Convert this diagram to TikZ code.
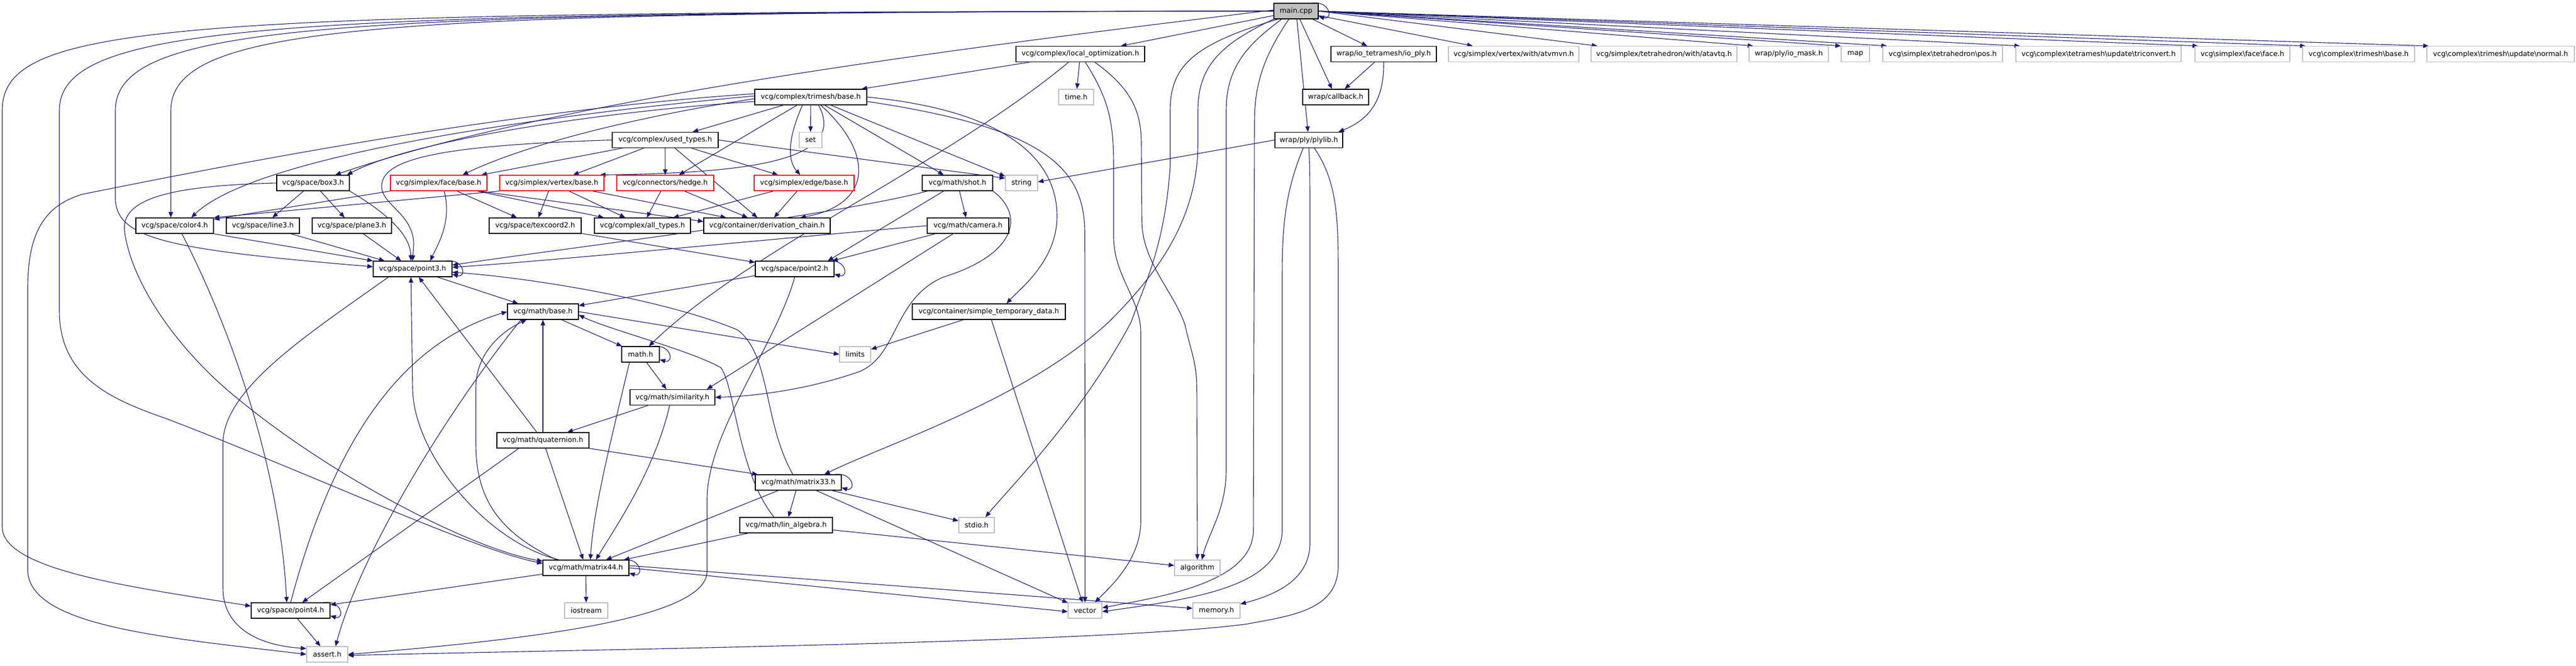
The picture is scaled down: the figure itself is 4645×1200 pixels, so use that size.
\documentclass[tikz,border=0pt]{standalone}
\usepackage{fontspec}
\newfontfamily\nodefont{DejaVu Sans}
\usetikzlibrary{arrows.meta,calc}
\definecolor{edgecol}{HTML}{191970}
\definecolor{missgray}{HTML}{BFBFBF}
\pgfdeclarelayer{edgelayer}
\pgfsetlayers{edgelayer,main}
\newcommand\bs{\textbackslash}
\newcommand\loopon[1]{\draw[edge] ($(#1.north east)+(-12,0)$) .. controls ($(#1.north east)+(22,4)$) and ($(#1.south east)+(26,-2)$) .. ($(#1.south east)+(0,5)$);}
\begin{document}
\begin{tikzpicture}[x=1pt,y=1pt,
  box/.style={rectangle, minimum height=28pt, inner sep=0pt, line width=1.2pt, fill=white,
    font=\nodefont\fontsize{12.7pt}{15pt}\selectfont},
  doc/.style={box, draw=black},
  miss/.style={box, draw=missgray},
  trunc/.style={box, draw=red},
  edge/.style={draw=edgecol, line width=1.1pt, -{Triangle[length=10pt,width=8pt]}}]
\useasboundingbox (0,0) rectangle (4645,-1200);
% ---------- nodes ----------
\node[doc,fill=missgray,minimum width=80pt] (main) at (2337,-20) {main.cpp};
\node[doc,minimum width=232pt] (locopt) at (1948,-97.5) {vcg/complex/local\_optimization.h};
\node[doc,minimum width=190pt] (ioply) at (2495,-97.5) {wrap/io\_tetramesh/io\_ply.h};
\node[miss,minimum width=235pt] (atvmvn) at (2729.5,-97.5) {vcg/simplex/vertex/with/atvmvn.h};
\node[miss,minimum width=263pt] (atavtq) at (3000.5,-97.5) {vcg/simplex/tetrahedron/with/atavtq.h};
\node[miss,minimum width=143pt] (iomask) at (3225.5,-97.5) {wrap/ply/io\_mask.h};
\node[miss,minimum width=51pt] (map) at (3345.5,-97.5) {map};
\node[miss,minimum width=216pt] (pos) at (3503,-97.5) {vcg\bs simplex\bs tetrahedron\bs pos.h};
\node[miss,minimum width=298pt] (triconvert) at (3784,-97.5) {vcg\bs complex\bs tetramesh\bs update\bs triconvert.h};
\node[miss,minimum width=171pt] (faceface) at (4043.5,-97.5) {vcg\bs simplex\bs face\bs face.h};
\node[miss,minimum width=202pt] (tribaseb) at (4253,-97.5) {vcg\bs complex\bs trimesh\bs base.h};
\node[miss,minimum width=266pt] (normal) at (4509,-97.5) {vcg\bs complex\bs trimesh\bs update\bs normal.h};
\node[doc,minimum width=202pt] (tribase) at (1462,-175) {vcg/complex/trimesh/base.h};
\node[miss,minimum width=63pt] (time) at (1940.5,-175) {time.h};
\node[doc,minimum width=119pt] (callback) at (2408.5,-175) {wrap/callback.h};
\node[doc,minimum width=191pt] (usedtypes) at (1199.5,-252.5) {vcg/complex/used\_types.h};
\node[miss,minimum width=41pt] (set) at (1461.5,-252.5) {set};
\node[doc,minimum width=122pt] (plylib) at (2360,-252.5) {wrap/ply/plylib.h};
\node[doc,minimum width=131pt] (box3) at (564.5,-330) {vcg/space/box3.h};
\node[trunc,minimum width=174pt] (facebase) at (791,-330) {vcg/simplex/face/base.h};
\node[trunc,minimum width=188pt] (vertexbase) at (995,-330) {vcg/simplex/vertex/base.h};
\node[trunc,minimum width=175pt] (hedge) at (1199.5,-330) {vcg/connectors/hedge.h};
\node[trunc,minimum width=180pt] (edgebase) at (1450,-330) {vcg/simplex/edge/base.h};
\node[doc,minimum width=127pt] (shot) at (1726.5,-330) {vcg/math/shot.h};
\node[miss,minimum width=58pt] (string) at (1842,-330) {string};
\node[doc,minimum width=140pt] (color4) at (315,-407) {vcg/space/color4.h};
\node[doc,minimum width=132pt] (line3) at (474,-407) {vcg/space/line3.h};
\node[doc,minimum width=143pt] (plane3) at (634.5,-407) {vcg/space/plane3.h};
\node[doc,minimum width=166pt] (texcoord2) at (965,-407) {vcg/space/texcoord2.h};
\node[doc,minimum width=173pt] (alltypes) at (1158.5,-407) {vcg/complex/all\_types.h};
\node[doc,minimum width=228pt] (derivchain) at (1383,-407) {vcg/container/derivation\_chain.h};
\node[doc,minimum width=147pt] (camera) at (1745.5,-407) {vcg/math/camera.h};
\node[doc,minimum width=142pt] (point3) at (744,-485) {vcg/space/point3.h};
\node[doc,minimum width=142pt] (point2) at (1433,-485) {vcg/space/point2.h};
\node[doc,minimum width=128pt] (mathbase) at (979,-562) {vcg/math/base.h};
\node[doc,minimum width=276pt] (simpletemp) at (1783,-562) {vcg/container/simple\_temporary\_data.h};
\node[doc,minimum width=68pt] (math) at (1155,-639) {math.h};
\node[miss,minimum width=56pt] (limits) at (1542,-639) {limits};
\node[doc,minimum width=153pt] (similarity) at (1212.5,-716.5) {vcg/math/similarity.h};
\node[doc,minimum width=166pt] (quaternion) at (979,-794) {vcg/math/quaternion.h};
\node[doc,minimum width=155pt] (matrix33) at (1439.5,-870) {vcg/math/matrix33.h};
\node[doc,minimum width=167pt] (linalg) at (1417.5,-947) {vcg/math/lin\_algebra.h};
\node[miss,minimum width=64pt] (stdio) at (1761,-947) {stdio.h};
\node[doc,minimum width=155pt] (matrix44) at (1056.5,-1024) {vcg/math/matrix44.h};
\node[miss,minimum width=82pt] (algorithm) at (2159,-1024) {algorithm};
\node[doc,minimum width=142pt] (point4) at (524,-1101) {vcg/space/point4.h};
\node[miss,minimum width=78pt] (iostream) at (1057,-1101) {iostream};
\node[miss,minimum width=61pt] (vector) at (1956.5,-1101) {vector};
\node[miss,minimum width=85pt] (memory) at (2193.5,-1101) {memory.h};
\node[miss,minimum width=74pt] (assert) at (590,-1180) {assert.h};
\begin{pgfonlayer}{edgelayer}
\fill[white] (0,0) rectangle (4645,-1200);
% ---------- edges from main.cpp ----------
\loopon{main}
\draw[edge] (main) -- (locopt);
\draw[edge] (main) -- (ioply);
\draw[edge] (main) -- (atvmvn);
\draw[edge] (main.east) -- ($(atavtq.north west)+(12,0)$);
\draw[edge] (main.east) -- ($(iomask.north west)+(8,0)$);
\draw[edge] (main.east) -- ($(map.north west)+(0,0)$);
\draw[edge] (main.east) -- ($(pos.north west)+(8,0)$);
\draw[edge] (main.east) -- ($(triconvert.north west)+(8,0)$);
\draw[edge] (main.east) -- ($(faceface.north west)+(6,0)$);
\draw[edge] (main.east) -- ($(tribaseb.north west)+(6,0)$);
\draw[edge] (main.east) -- ($(normal.north west)+(4,0)$);
\draw[edge] (main) -- (callback);
\draw[edge] (main) -- (plylib);
\draw[edge] ($(main.west)+(0,2)$) .. controls (1700,-90) and (1000,-180) .. ($(box3.north)+(40,0)$);
\draw[edge] (main.west) .. controls (700,-22) and (308,-40) .. (308,-200) -- ($(color4.north)+(-7,0)$);
\draw[edge] (main.west) .. controls (600,-22) and (208,-40) .. (208,-200) -- (208,-360) .. controls (212,-430) and (300,-450) .. ($(point3.west)+(0,4)$);
\draw[edge] (main.west) .. controls (500,-22) and (107,-40) .. (107,-200) -- (107,-560) .. controls (107,-680) and (200,-720) .. (300,-755) .. controls (550,-850) and (850,-990) .. ($(matrix44.west)+(0,8)$);
\draw[edge] (main.west) .. controls (300,-21) and (4,-40) .. (4,-200) -- (4,-950) .. controls (4,-1030) and (250,-1060) .. ($(point4.west)+(0,8)$);
\draw[edge] (main.south west) .. controls (2200,-80) and (2160,-120) .. (2160,-200) -- (2160,-260) .. controls (2160,-400) and (2080,-500) .. (2000,-580) .. controls (1850,-720) and (1600,-800) .. ($(matrix33.north)+(47,0)$);
\draw[edge] ($(main.south west)+(8,0)$) .. controls (2150,-80) and (2110,-120) .. (2110,-200) -- (2110,-300) .. controls (2100,-450) and (2060,-520) .. (2040,-580) .. controls (1950,-750) and (1820,-880) .. ($(stdio.north)+(16,0)$);
\draw[edge] ($(main.south)+(-26,0)$) .. controls (2250,-80) and (2211,-120) .. (2211,-200) -- (2211,-850) .. controls (2210,-920) and (2180,-960) .. ($(algorithm.north)+(8,0)$);
\draw[edge] ($(main.south)+(-13,0)$) .. controls (2280,-100) and (2262,-150) .. (2262,-220) -- (2260,-960) .. controls (2255,-1050) and (2100,-1075) .. ($(vector.east)+(0,5)$);
% ---------- io_ply / plylib ----------
\draw[edge] (ioply) -- (callback);
\draw[edge] (ioply.south) .. controls (2496,-180) and (2470,-215) .. ($(plylib.north east)+(-8,0)$);
\draw[edge] (plylib.west) -- ($(string.east)+(0,2)$);
\draw[edge] ($(plylib.south)+(-10,0)$) .. controls (2315,-350) and (2312,-420) .. (2312,-500) -- (2312,-960) .. controls (2305,-1060) and (2150,-1080) .. ($(vector.east)+(0,-2)$);
\draw[edge] (plylib.south) .. controls (2362,-300) and (2362,-320) .. (2362,-400) -- (2362,-980) .. controls (2362,-1050) and (2290,-1075) .. ($(memory.north east)+(0,-3)$);
\draw[edge] ($(plylib.south)+(10,0)$) .. controls (2413,-330) and (2413,-400) .. (2413,-500) -- (2413,-1020) .. controls (2413,-1100) and (2330,-1110) .. (2250,-1125) .. controls (2000,-1160) and (1000,-1172) .. ($(assert.east)+(0,-2)$);
% ---------- local_optimization ----------
\draw[edge] (locopt) -- (time);
\draw[edge] (locopt) -- (tribase);
\draw[edge] ($(locopt.south)+(-21,0)$) .. controls (1700,-300) and (1350,-450) .. ($(math.north)+(15,0)$);
\draw[edge] ($(locopt.south)+(9,0)$) .. controls (2000,-180) and (2008,-220) .. (2008,-300) -- (2008,-430) .. controls (2010,-500) and (2057,-540) .. (2057,-600) -- (2057,-940) .. controls (2057,-1010) and (2000,-1060) .. ($(vector.north)+(18,0)$);
\draw[edge] ($(locopt.south)+(26,0)$) .. controls (2040,-160) and (2058,-200) .. (2058,-260) -- (2059,-400) .. controls (2060,-480) and (2130,-540) .. (2140,-600) .. controls (2150,-640) and (2158,-660) .. (2158,-700) -- (algorithm.north);
% ---------- trimesh/base.h ----------
\draw[edge] (tribase) -- (set);
\draw[edge] (tribase) -- (usedtypes);
\draw[edge] (tribase) -- (hedge);
\draw[edge] (tribase) -- (shot);
\draw[edge] (tribase) -- (string);
\draw[edge] ($(tribase.south)+(-15,0)$) .. controls (1420,-250) and (1420,-290) .. ($(edgebase.north)+(-7,0)$);
\draw[edge] ($(tribase.south)+(14,0)$) .. controls (1530,-290) and (1350,-312) .. ($(vertexbase.north east)+(-8,0)$);
\draw[edge] ($(tribase.south)+(18,0)$) .. controls (1580,-280) and (1570,-370) .. ($(derivchain.north)+(60,0)$);
\draw[edge] (tribase.east) .. controls (1820,-200) and (1906,-290) .. (1906,-390) .. controls (1906,-470) and (1840,-520) .. ($(simpletemp.north)+(32,0)$);
\draw[edge] ($(tribase.east)+(0,-8)$) .. controls (1880,-230) and (1956,-300) .. (1956,-420) -- (vector.north);
\draw[edge] ($(tribase.west)+(0,-8)$) .. controls (1100,-200) and (750,-250) .. ($(box3.north east)+(-5,0)$);
\draw[edge] ($(tribase.west)+(0,-3)$) .. controls (1150,-210) and (950,-260) .. ($(facebase.north)+(43,0)$);
\draw[edge] ($(tribase.west)+(0,2)$) .. controls (900,-215) and (450,-290) .. ($(color4.north)+(30,0)$);
\draw[edge] ($(tribase.west)+(0,6)$) .. controls (900,-200) and (400,-300) .. (150,-350) .. controls (80,-370) and (50,-420) .. (50,-520) -- (50,-1030) .. controls (55,-1130) and (300,-1150) .. (assert.west);
% ---------- used_types ----------
\draw[edge] (usedtypes) -- (facebase);
\draw[edge] (usedtypes) -- (vertexbase);
\draw[edge] (usedtypes) -- (hedge);
\draw[edge] (usedtypes) -- (edgebase);
\draw[edge] (usedtypes) -- (derivchain);
\draw[edge] (usedtypes.east) -- ($(string.north west)+(0,-6)$);
\draw[edge] (usedtypes.west) .. controls (800,-262) and (690,-285) .. (688,-335) .. controls (688,-370) and (745,-385) .. (746,-440) -- (point3.north);
% ---------- simplex bases ----------
\draw[edge] (facebase) -- (texcoord2);
\draw[edge] (facebase) -- (alltypes);
\draw[edge] ($(facebase.south east)+(-15,0)$) -- ($(derivchain.north west)+(0,-7)$);
\draw[edge] (facebase.south west) -- ($(color4.north east)+(0,-3)$);
\draw[edge] ($(facebase.south)+(10,0)$) .. controls (815,-400) and (790,-440) .. ($(point3.north east)+(-40,0)$);
\draw[edge] (vertexbase) -- (texcoord2);
\draw[edge] (vertexbase) -- (alltypes);
\draw[edge] (vertexbase) -- (derivchain);
\draw[edge] (vertexbase.south west) -- (color4.north east);
\draw[edge] (hedge) -- (alltypes);
\draw[edge] (hedge) -- (derivchain);
\draw[edge] (edgebase) -- (alltypes);
\draw[edge] (edgebase) -- (derivchain);
% ---------- shot / camera ----------
\draw[edge] (shot) -- (camera);
\draw[edge] ($(shot.south west)+(10,0)$) .. controls (1500,-390) and (1000,-450) .. ($(point3.east)+(0,7)$);
\draw[edge] ($(shot.south)+(-25,0)$) -- ($(point2.north east)+(-12,0)$);
\draw[edge] (shot.south east) .. controls (1850,-390) and (1830,-460) .. (1700,-500) .. controls (1610,-540) and (1620,-640) .. (1550,-670) .. controls (1450,-705) and (1350,-715) .. (similarity.east);
\draw[edge] (camera.west) .. controls (1400,-430) and (1000,-470) .. ($(point3.east)+(0,3)$);
\draw[edge] ($(camera.south west)+(15,0)$) -- ($(point2.north east)+(-4,0)$);
\draw[edge] ($(camera.south)+(-27,0)$) -- ($(similarity.north east)+(-15,0)$);
\draw[edge] (texcoord2) -- (point2);
% ---------- space ----------
\draw[edge] (box3) -- (line3);
\draw[edge] (box3) -- (plane3);
\draw[edge] (box3.south east) .. controls (690,-380) and (740,-420) .. ($(point3.north)+(-3,0)$);
\draw[edge] (box3.west) .. controls (300,-335) and (215,-360) .. (225,-420) .. controls (240,-520) and (330,-640) .. (430,-720) .. controls (600,-860) and (850,-990) .. ($(matrix44.west)+(0,12)$);
\draw[edge] (color4.south east) -- (point3.north west);
\draw[edge] ($(color4.south)+(13,0)$) .. controls (420,-600) and (505,-850) .. ($(point4.north)+(-7,0)$);
\draw[edge] (line3) -- (point3);
\draw[edge] (plane3) -- (point3);
\loopon{point3}
\draw[edge] (point3) -- (mathbase);
\draw[edge] ($(point3.south west)+(28,0)$) .. controls (560,-600) and (402,-700) .. (402,-800) -- (402,-1060) .. controls (402,-1140) and (480,-1165) .. ($(assert.north west)+(0,-4)$);
\loopon{point2}
\draw[edge] (point2) -- (mathbase);
\draw[edge] (point2.south) .. controls (1400,-620) and (1275,-780) .. (1275,-900) -- (1275,-1030) .. controls (1275,-1110) and (1000,-1150) .. (assert.east);
\loopon{point4}
\draw[edge] (point4.north) .. controls (600,-800) and (720,-620) .. (mathbase.west);
\draw[edge] (point4) -- (assert);
% ---------- math ----------
\draw[edge] (mathbase) -- (math);
\draw[edge] (mathbase.east) -- (limits.west);
\draw[edge] ($(mathbase.south west)+(25,0)$) .. controls (800,-750) and (650,-1000) .. ($(assert.north)+(15,0)$);
\draw[edge] (simpletemp) -- (limits);
\draw[edge] (simpletemp) -- (vector);
\loopon{math}
\draw[edge] (math) -- (similarity);
\draw[edge] ($(math.south)+(-20,0)$) .. controls (1100,-800) and (1070,-920) .. ($(matrix44.north)+(8,0)$);
\draw[edge] (similarity) -- (quaternion);
\draw[edge] ($(similarity.south)+(-5,0)$) .. controls (1180,-850) and (1110,-950) .. ($(matrix44.north)+(18,0)$);
\draw[edge] (quaternion) -- (mathbase);
\draw[edge] (quaternion) -- (point3);
\draw[edge] ($(quaternion.south west)+(40,0)$) -- ($(point4.north)+(21,0)$);
\draw[edge] (quaternion) -- (matrix44);
\draw[edge] (quaternion.south east) -- ($(matrix33.north west)+(5,0)$);
\loopon{matrix33}
\draw[edge] (matrix33) -- (linalg);
\draw[edge] (matrix33) -- (matrix44);
\draw[edge] (matrix33) -- (vector);
\draw[edge] (matrix33) -- (stdio);
\draw[edge] ($(matrix33.north)+(-10,0)$) .. controls (1376,-760) and (1390,-640) .. (1330,-595) .. controls (1200,-540) and (950,-500) .. ($(point3.east)+(0,-6)$);
\draw[edge] (linalg) -- (matrix44);
\draw[edge] (linalg) -- (algorithm);
\draw[edge] ($(linalg.north)+(-22,0)$) .. controls (1330,-850) and (1326,-700) .. (1300,-663) .. controls (1240,-630) and (1100,-595) .. ($(mathbase.east)+(0,-6)$);
\loopon{matrix44}
\draw[edge] (matrix44) -- (point4);
\draw[edge] (matrix44) -- (iostream);
\draw[edge] ($(matrix44.north west)+(30,0)$) .. controls (880,-980) and (745,-820) .. (744,-700) -- ($(point3.south)+(-3,0)$);
\draw[edge] ($(matrix44.north west)+(25,0)$) .. controls (900,-960) and (858,-900) .. (858,-800) -- (858,-700) .. controls (858,-640) and (900,-600) .. ($(mathbase.south west)+(35,0)$);
\draw[edge] (matrix44.east) -- ($(vector.west)+(0,-2)$);
\draw[edge] ($(matrix44.east)+(0,4)$) -- ($(memory.west)+(0,4)$);
\end{pgfonlayer}
\end{tikzpicture}
\end{document}
